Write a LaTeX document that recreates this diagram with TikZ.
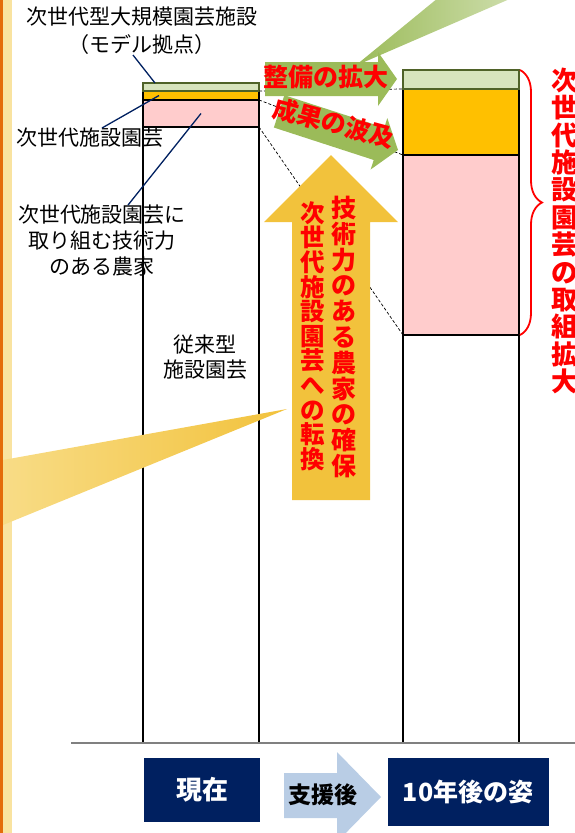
\documentclass[tikz,border=0pt]{standalone}
\usepackage{fontspec}
\newfontfamily\jpfont{Noto Sans CJK JP}
\usetikzlibrary{calc,decorations.pathreplacing}

\definecolor{barpink}{HTML}{FFCCCC}
\definecolor{barorange}{HTML}{FFC000}
\definecolor{barlime}{HTML}{D7E4BD}
\definecolor{leafdark}{HTML}{4F6228}
\definecolor{leafgreen}{HTML}{9BBB59}
\definecolor{leaflight}{HTML}{CDDDAB}
\definecolor{goldarrow}{HTML}{F2C23C}
\definecolor{goldlight}{HTML}{F8DC86}
\definecolor{navy}{HTML}{002060}
\definecolor{paleblue}{HTML}{B9CDE5}
\definecolor{stripe}{HTML}{E46C0A}
\definecolor{stripepale}{HTML}{F9E3A0}

\def \barw {116pt}

\tikzset{
  lbl/.style={font=\jpfont\fontsize{21}{26}\selectfont, align=center, inner sep=0pt},
  redlbl/.style={font=\jpfont\bfseries\fontsize{25}{26}\selectfont, text=red, align=center, inner sep=0pt},
  seg/.style={draw=black, line width=1.5pt, minimum width=\barw, inner sep=0pt, outer sep=0pt, anchor=north west},
  topband/.style={seg, draw=leafdark, fill=barlime, line width=2pt},
  leader/.style={draw=navy, line width=1.3pt},
  guide/.style={densely dashed, line width=0.7pt},
  tag/.style={fill=navy, text=white, inner sep=0pt, font=\jpfont\bfseries\fontsize{26}{30}\selectfont},
}

\begin{document}
\begin{tikzpicture}[x=1pt,y=-1pt]
\useasboundingbox (0,0) rectangle (575,833);
\clip (0,0) rectangle (575,833);

% side stripe
\fill[stripepale] (3,0) rectangle (12,833);
\fill[stripe] (0,0) rectangle (3,833);

% bar: now
\node[seg, minimum height=616pt] (nowBase) at (143,127) {};
\node[seg, fill=barpink, minimum height=27pt] (nowPink) at (143,100) {};
\node[seg, fill=barorange, minimum height=9pt] (nowMid) at (143,91) {};
\node[topband, minimum height=8pt] (nowTop) at (143,83) {};

% bar: in 10 years
\node[seg, minimum height=408pt] (futBase) at (403,335) {};
\node[seg, fill=barpink, minimum height=180pt] (futPink) at (403,155) {};
\node[seg, fill=barorange, minimum height=66pt] (futMid) at (403,89) {};
\node[topband, minimum height=19pt] (futTop) at (403,70) {};

\draw[gray, line width=1.5pt] (71,743) -- (575,743); % ground line

% guides between bars
\draw[guide] (nowMid.north east) -- (futMid.north west);
\draw[guide] (nowPink.north east) -- (futPink.north west);
\draw[guide] (nowBase.north east) -- (futBase.north west);

% labels on the left
\node[lbl, text width=260pt, font=\jpfont\fontsize{21}{28}\selectfont] (model) at (142,31) {次世代型大規模園芸施設\\（モデル拠点）};
\node[lbl] (nextgen) at (90,138) {次世代施設園芸};
\node[lbl] (farmer) at (102,241) {次世代施設園芸に\\取り組む技術力\\のある農家};
\node[lbl, font=\jpfont\fontsize{21}{25}\selectfont] (legacy) at (205,357) {従来型\\施設園芸};
\draw[leader] ([xshift=-9pt]model.south) -- ([xshift=12pt]nowTop.north west);
\draw[leader] ([xshift=12pt]nextgen.north) -- ([xshift=16pt]nowMid.west);
\draw[leader] ([xshift=26pt]farmer.north) -- (nowPink.center);

% green callout and arrows
\shade[left color=leafgreen, right color=leaflight] (355,66) -- (438,-2) -- (512,-2) -- cycle;
\begin{scope}[shift={(398,150)}, rotate=-18]
  \fill[leafgreen] (0,0) -- (-20,-27) -- (-20,-17) -- (-125,-17) -- (-125,17) -- (-20,17) -- (-20,27) -- cycle;
\end{scope}
\fill[leafgreen] (265,62) -- (378,62) -- (378,52) -- (397,79) -- (378,106) -- (378,96) -- (265,96) -- cycle;
\node[redlbl] (expandlbl) at (326,77) {整備の拡大};
\node[redlbl, rotate=-15] (spreadlbl) at (334,123) {成果の波及};

% gold arrow
\fill[goldarrow] (331,155) -- (398,222) -- (370,222) -- (370,500) -- (292,500) -- (292,222) -- (264,222) -- cycle;
\node[redlbl, font=\jpfont\bfseries\fontsize{25}{25.8}\selectfont] (secure) at (344,337) {技\\術\\力\\の\\あ\\る\\農\\家\\の\\確\\保};
\node[redlbl, font=\jpfont\bfseries\fontsize{24.5}{24.6}\selectfont] (shift) at (313,336) {次\\世\\代\\施\\設\\園\\芸\\へ\\の\\転\\換};

% left callout
\shade[left color=goldlight, right color=goldarrow] (3,460) -- (287,409) -- (3,525) -- cycle;

% brace and right text
\draw[red, line width=1.8pt, decorate, decoration={brace, amplitude=22pt}] ([xshift=1pt]futTop.north east) -- ([xshift=1pt]futPink.south east);
\node[redlbl, font=\jpfont\bfseries\fontsize{26.5}{27.4}\selectfont] (wider) at (565,231) {次\\世\\代\\施\\設\\園\\芸\\の\\取\\組\\拡\\大};

% bottom tags
\node[tag, minimum width=116pt, minimum height=64pt] (now) at (202,790) {現在};
\fill[paleblue] (284,773) -- (337,773) -- (337,752) -- (381,797) -- (337,842) -- (337,818) -- (284,818) -- cycle;
\node[font=\jpfont\bfseries\fontsize{23}{26}\selectfont, inner sep=0pt] (support) at (323,795) {支援後};
\node[tag, minimum width=161pt, minimum height=68pt, font=\jpfont\bfseries\fontsize{25}{30}\selectfont] (future) at (468,792) {10年後の姿};
\end{tikzpicture}
\end{document}
